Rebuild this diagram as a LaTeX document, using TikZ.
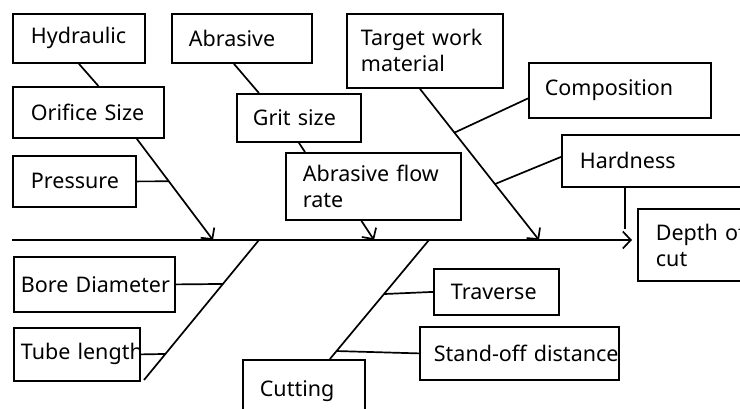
\documentclass[tikz,border=0pt]{standalone}
\usepackage{fontspec}
\setmainfont{Noto Sans}
\usetikzlibrary{arrows.meta,calc}
\hyphenpenalty=10000
\exhyphenpenalty=10000

\begin{document}
\begin{tikzpicture}[x=1pt,y=-1pt,
  box/.style={draw,line width=1.8pt,anchor=north west,align=left,inner ysep=0pt,
    font=\fontsize{21.5}{26}\selectfont},
  bone/.style={line width=1.7pt},
  tip/.style={bone,-{Straight Barb[length=8pt,width=17pt]}}]

	\path[use as bounding box,clip] (0,0) rectangle (740,408);

	% Causes
	\node[box,text width=96pt,inner xsep=18pt,minimum height=49pt] (hyd) at (12,13) {Hydraulic};
	\node[box,text width=106pt,inner xsep=17pt,minimum height=49pt] (abr) at (171,13) {Abrasive};
	\node[box,text width=128pt,inner xsep=14pt,minimum height=74pt] (tgt) at (346,13) {Target~work\\material};
	\node[box,text width=115pt,inner xsep=18pt,minimum height=51pt] (ori) at (12,86) {Orifice~Size};
	\node[box,text width=92pt,inner xsep=16pt,minimum height=48pt] (grit) at (236,93) {Grit~size};
	\node[box,text width=150pt,inner xsep=16pt,minimum height=55pt] (comp) at (528,62) {Composition};
	\node[box,text width=87pt,inner xsep=18pt,minimum height=51pt] (pres) at (12,155) {Pressure};
	\node[box,text width=141pt,inner xsep=17pt,minimum height=67pt] (flow) at (285,152) {Abrasive~flow\\rate};
	\node[box,text width=164pt,inner xsep=18pt,minimum height=52pt] (hard) at (561,134) {Hardness};
	\node[box,text width=147pt,inner xsep=7pt,minimum height=55pt] (bore) at (13,256) {Bore~Diameter};
	\node[box,text width=112pt,inner xsep=7pt,minimum height=53pt] (tube) at (13,327) {Tube~length};
	\node[box,text width=88pt,inner xsep=17pt,minimum height=62pt] (cut) at (242,359) {Cutting};
	\node[box,text width=91pt,inner xsep=17pt,minimum height=46pt] (trav) at (433,268) {Traverse};
	\node[box,text width=171pt,inner xsep=14pt,minimum height=53pt] (stand) at (419,326) {Stand-off~distance};

	% Effect
	\node[box,text width=104pt,inner xsep=18pt,minimum height=72pt] (dep) at (637,208) {Depth~of\\cut};

	% Points on the spine
	\coordinate (s0) at (12,240);
	\coordinate (s1) at (632,240);
	\coordinate (h1) at (213,240);
	\coordinate (h2) at (374,240);
	\coordinate (h3) at (539,240);
	\coordinate (b1) at (259,240);
	\coordinate (b2) at (144,380);
	\coordinate (c1) at (429,240);
	\coordinate (o1) at ([xshift=-28pt]ori.south east);
	\coordinate (t1) at ([xshift=-5pt]tgt.south);
	\coordinate (k1) at ([xshift=26pt]cut.north);
	\coordinate (hv) at ([xshift=64pt]hard.south west);

	% Spine
	\draw[tip] (s0) -- (s1);
	\draw[bone] (hv) -- ++(0,41);

	% Upper bones
	\draw[bone] (hyd.south) -- ([xshift=10pt]ori.north);
	\draw[tip] (o1) -- (h1);
	\draw[bone] (pres.east) -- ($(o1)!0.42!(h1)$);
	\draw[bone] ([xshift=-8pt]abr.south) -- ([xshift=-40pt]grit.north);
	\draw[bone] (grit.south) -- ([xshift=20pt]flow.north west);
	\draw[tip] ([xshift=-12pt]flow.south) -- (h2);
	\draw[tip] (t1) -- (h3);
	\draw[bone] ($(t1)!0.29!(h3)$) -- ([yshift=-8pt]comp.west);
	\draw[bone] ($(t1)!0.63!(h3)$) -- ([yshift=4pt]hard.west);

	% Lower bones
	\draw[bone] (b1) -- (b2);
	\draw[bone] (bore.east) -- ($(b1)!0.314!(b2)$);
	\draw[bone] (tube.east) -- ($(b1)!0.814!(b2)$);
	\draw[bone] (c1) -- (k1);
	\draw[bone] ($(c1)!0.454!(k1)$) -- (trav.west);
	\draw[bone] ($(c1)!0.933!(k1)$) -- (stand.west);

\end{tikzpicture}
\end{document}
